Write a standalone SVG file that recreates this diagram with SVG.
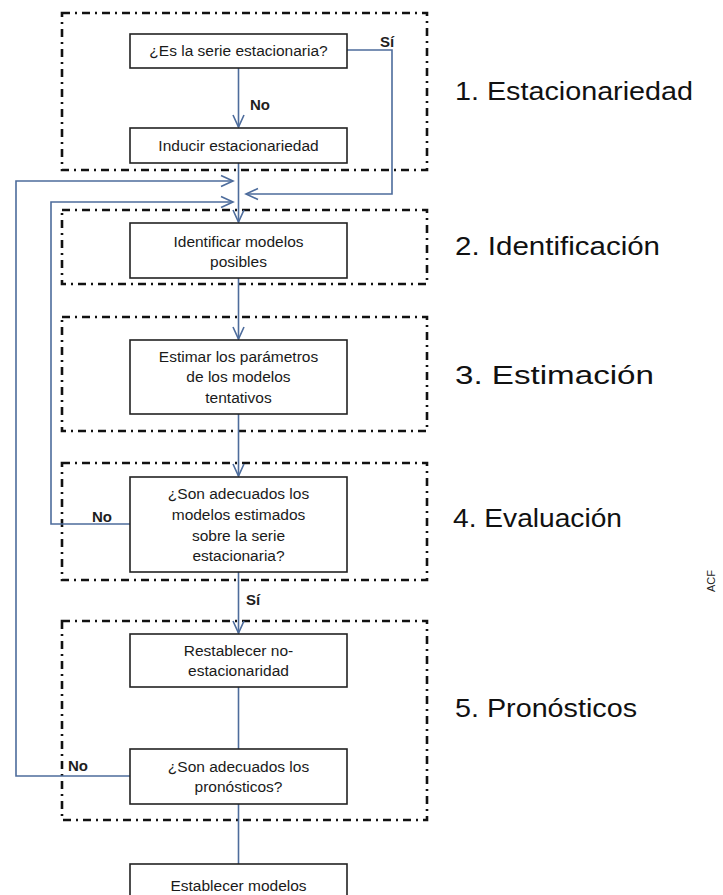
<svg xmlns="http://www.w3.org/2000/svg" width="723" height="895" viewBox="0 0 723 895">
<style>
.phase{fill:none;stroke:#111;stroke-width:2.6;stroke-dasharray:8 5 2 5}
.node rect{fill:#fff;stroke:#222;stroke-width:1.6}
.t{font-family:"Liberation Sans",Arial,sans-serif;font-size:15.5px;fill:#1a1a1a;text-anchor:middle}
.lbl{font-family:"Liberation Sans",Arial,sans-serif;font-size:15px;fill:#1e1e1e;font-weight:bold}
.big{font-family:"Liberation Sans",Arial,sans-serif;font-size:26px;fill:#111}
.c{fill:none;stroke:#4d6c9c;stroke-width:1.6}
</style>
<defs>
<marker id="ah" markerUnits="userSpaceOnUse" viewBox="-13 -7 15 14" refX="0" refY="0" markerWidth="15" markerHeight="14" orient="auto">
<path d="M-12,-5.5 L0,0 L-12,5.5" fill="none" stroke="#4d6c9c" stroke-width="1.6"/>
</marker>
</defs>
<rect width="723" height="895" fill="#fff"/>
<g id="phases">
<rect class="phase" x="62" y="13" width="365" height="157"/>
<rect class="phase" x="62" y="210" width="365" height="74"/>
<rect class="phase" x="62" y="317" width="365" height="114"/>
<rect class="phase" x="62" y="463" width="365" height="117"/>
<rect class="phase" x="62" y="621" width="365" height="199"/>
</g>
<g id="phase-labels">
<text class="big" x="455" y="100" textLength="238" lengthAdjust="spacingAndGlyphs">1. Estacionariedad</text>
<text class="big" x="455" y="255" textLength="205" lengthAdjust="spacingAndGlyphs">2. Identificación</text>
<text class="big" x="455" y="384" textLength="199" lengthAdjust="spacingAndGlyphs">3. Estimación</text>
<text class="big" x="453" y="527" textLength="169" lengthAdjust="spacingAndGlyphs">4. Evaluación</text>
<text class="big" x="455" y="717" textLength="182" lengthAdjust="spacingAndGlyphs">5. Pronósticos</text>
</g>
<g id="connectors">
<path class="c" d="M238.5,68 V127" marker-end="url(#ah)"/>
<path class="c" d="M238.5,163 V222" marker-end="url(#ah)"/>
<path class="c" d="M347,50 H392 V194 H246" marker-end="url(#ah)"/>
<path class="c" d="M130,776 H16 V181 H233" marker-end="url(#ah)"/>
<path class="c" d="M130,524 H51 V202 H233" marker-end="url(#ah)"/>
<path class="c" d="M238.5,278 V339" marker-end="url(#ah)"/>
<path class="c" d="M238.5,414 V476" marker-end="url(#ah)"/>
<path class="c" d="M238.5,572 V633" marker-end="url(#ah)"/>
<path class="c" d="M238.5,687 V749"/>
<path class="c" d="M238.5,804 V864"/>
<text class="lbl" x="250" y="110">No</text>
<text class="lbl" x="380" y="47">Sí</text>
<text class="lbl" x="92" y="522">No</text>
<text class="lbl" x="246" y="605">Sí</text>
<text class="lbl" x="68" y="771">No</text>
</g>
<g id="n1" class="node">
<rect x="130" y="34" width="217" height="34"/>
<text class="t" x="238.5" y="56">¿Es la serie estacionaria?</text>
</g>
<g id="n2" class="node">
<rect x="130" y="128" width="217" height="35"/>
<text class="t" x="238.5" y="151">Inducir estacionariedad</text>
</g>
<g id="n3" class="node">
<rect x="130" y="223" width="217" height="55"/>
<text class="t" x="238.5" y="247">Identificar modelos</text>
<text class="t" x="238.5" y="267">posibles</text>
</g>
<g id="n4" class="node">
<rect x="130" y="340" width="217" height="74"/>
<text class="t" x="238.5" y="362">Estimar los parámetros</text>
<text class="t" x="238.5" y="382">de los modelos</text>
<text class="t" x="238.5" y="403">tentativos</text>
</g>
<g id="n5" class="node">
<rect x="130" y="477" width="217" height="95"/>
<text class="t" x="238.5" y="499">¿Son adecuados los</text>
<text class="t" x="238.5" y="520">modelos estimados</text>
<text class="t" x="238.5" y="541">sobre la serie</text>
<text class="t" x="238.5" y="561">estacionaria?</text>
</g>
<g id="n6" class="node">
<rect x="130" y="634" width="217" height="53"/>
<text class="t" x="238.5" y="656">Restablecer no-</text>
<text class="t" x="238.5" y="676">estacionaridad</text>
</g>
<g id="n7" class="node">
<rect x="130" y="749" width="217" height="55"/>
<text class="t" x="238.5" y="772">¿Son adecuados los</text>
<text class="t" x="238.5" y="792">pronósticos?</text>
</g>
<g id="n8" class="node">
<rect x="130" y="864" width="217" height="40"/>
<text class="t" x="238.5" y="891">Establecer modelos</text>
</g>
<text x="715" y="581" transform="rotate(-90 715 581)" font-family="Liberation Sans,Arial,sans-serif" font-size="11" fill="#222" text-anchor="middle">ACF</text>
</svg>
